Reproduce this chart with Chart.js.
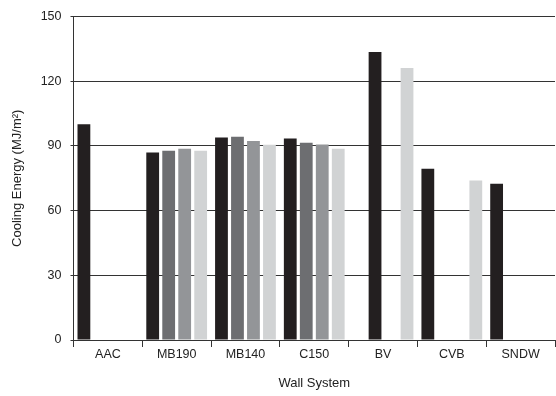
<!DOCTYPE html>
<html>
<head>
<meta charset="UTF-8">
<title>Cooling Energy by Wall System</title>
<script src="https://cdn.jsdelivr.net/npm/chart.js"></script>
<style>
  html, body { margin: 0; padding: 0; background: #fff; }
  #wrap { width: 556px; height: 396px; }
</style>
</head>
<body>
<div id="wrap"><canvas id="chart"></canvas></div>
<script>
const wallSystems = ["AAC", "MB190", "MB140", "C150", "BV", "CVB", "SNDW"];
const series1 = [100, 86.9, 93.9, 93.4, null, 79.4, 72.5];
const series2 = [null, 87.8, 94.3, 91.5, 133.5, null, null];
const series3 = [null, 88.7, 92.3, 90.6, null, null, null];
const series4 = [null, 87.8, 90.5, 88.7, 126.1, 73.9, null];
const yTicks = [0, 30, 60, 90, 120, 150];

const BLACK = "#231f20";
const DARK = "#6d6e71";
const MID = "#939598";
const LIGHT = "#d1d3d4";
const AXIS = "#333";

// BV's first bar sits in the second slot, so colour that one black
const series2Colors = wallSystems.map(w => w === "BV" ? BLACK : DARK);

Chart.defaults.font.family = "'Liberation Sans', Arial, Helvetica, sans-serif";
Chart.defaults.font.size = 12.5;
Chart.defaults.color = "#222";

const bar = (data, color) => ({
  data,
  backgroundColor: color,
  borderWidth: 0,
  categoryPercentage: 0.93,
  barPercentage: 0.8
});

new Chart(document.getElementById("chart"), {
  type: "bar",
  data: {
    labels: wallSystems,
    datasets: [
      bar(series1, BLACK),
      bar(series2, series2Colors),
      bar(series3, MID),
      bar(series4, LIGHT)
    ]
  },
  options: {
    responsive: true,
    maintainAspectRatio: false,
    animation: false,
    layout: { padding: { top: 12.5, right: 1, left: 6, bottom: 0 } },
    plugins: { legend: { display: false }, tooltip: { enabled: false } },
    scales: {
      x: {
        grid: {
          offset: true,
          drawOnChartArea: false,
          tickLength: 7,
          color: AXIS
        },
        border: { color: AXIS },
        ticks: { padding: 0 },
        title: {
          display: true,
          text: "Wall System",
          font: { size: 13 },
          padding: { top: 16, bottom: 5 }
        },
        afterFit: s => { s.height = 56; }
      },
      y: {
        min: 0,
        max: 150,
        afterBuildTicks: s => { s.ticks = yTicks.map(v => ({ value: v })); },
        grid: { color: AXIS, tickLength: 3 },
        border: { color: AXIS },
        ticks: { padding: 9 },
        title: {
          display: true,
          text: "Cooling Energy (MJ/m²)",
          font: { size: 13 },
          padding: { bottom: 4 }
        },
        afterFit: s => { s.width = 67.5; }
      }
    }
  }
});
</script>
</body>
</html>
